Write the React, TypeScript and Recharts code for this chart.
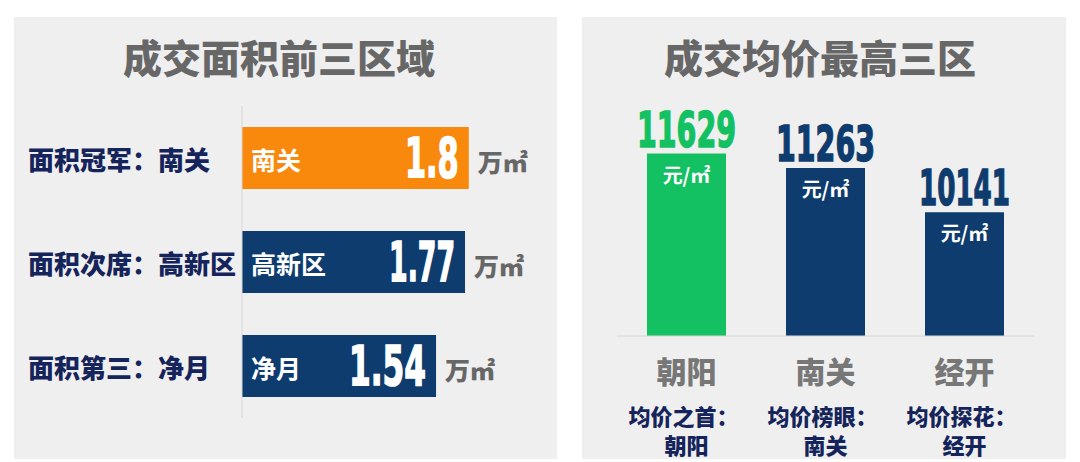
import { Bar, BarChart, Cell, LabelList, XAxis, YAxis } from "recharts";

// 成交面积前三区域 (万㎡)
const areaNames = ["南关", "高新区", "净月"];
const areaRanks = ["面积冠军：南关", "面积次席：高新区", "面积第三：净月"];
const areaValues = [1.8, 1.77, 1.54];
const areaUnit = "万㎡";

// 成交均价最高三区 (元/㎡)
const priceNames = ["朝阳", "南关", "经开"];
const priceRanks = ["均价之首：", "均价榜眼：", "均价探花："];
const priceValues = [11629, 11263, 10141];
const priceUnit = "元/㎡";

const CJK = '"Noto Sans CJK SC", "Noto Sans", sans-serif';
const NUM = '"Liberation Sans Narrow", "DejaVu Sans Condensed", "Liberation Sans", sans-serif';
const ORANGE = "#f8890c";
const NAVY = "#0e3c6e";
const GREEN = "#13c163";
const INK = "#15245a";
const GRAY = "#676767";
const PANEL = "#efefef";

const areaData = areaNames.map((name, i) => ({ name, rank: areaRanks[i], value: areaValues[i] }));
const priceData = priceNames.map((name, i) => ({ name, rank: priceRanks[i], value: priceValues[i] }));

// rough advance widths of the heavy condensed digits, in em
function numWidth(s: string, size: number) {
	let w = 0;
	for (const c of s) {
		if (c === "1") w += 0.3;
		else if (c === ".") w += 0.18;
		else if (c === "7") w += 0.36;
		else if (c === "8") w += 0.5;
		else w += 0.46;
	}
	return w * size;
}

function AreaTick(props: any) {
	const { y, payload } = props;
	return (
		<text x={14} y={y + 12} fill={INK} fontSize={26} fontWeight={900} fontFamily={CJK}>
			{payload.value}
		</text>
	);
}

function AreaInside(props: any) {
	const { x, y, height, index } = props;
	return (
		<text x={x + 9} y={y + height / 2 + 12} fill="#fff" fontSize={25} fontWeight={700} fontFamily={CJK}>
			{areaNames[index]}
		</text>
	);
}

function AreaValue(props: any) {
	const { x, y, width, height, value } = props;
	const s = String(value);
	const size = 55;
	const w = numWidth(s, size);
	const cy = y + height / 2;
	return (
		<g>
			<text
				x={x + width - 10 - w}
				y={cy + 19}
				fill="#fff"
				stroke="#fff"
				strokeWidth={1.5}
				fontSize={size}
				fontWeight={700}
				fontFamily={NUM}
				textLength={w}
				lengthAdjust="spacingAndGlyphs"
			>
				{s}
			</text>
			<text x={x + width + 9} y={cy + 14} fill={GRAY} fontSize={25} fontWeight={900} fontFamily={CJK}>
				{areaUnit}
			</text>
		</g>
	);
}

function PriceTick(props: any) {
	const { x, y, payload, index } = props;
	return (
		<g>
			<text x={x} y={y + 39} textAnchor="middle" fill="#777" fontSize={30} fontWeight={900} fontFamily={CJK}>
				{payload.value}
			</text>
			<text x={x - 3} y={y + 81} textAnchor="middle" fill={INK} fontSize={22} fontWeight={900} fontFamily={CJK}>
				{priceRanks[index]}
			</text>
			<text x={x} y={y + 110} textAnchor="middle" fill={INK} fontSize={22} fontWeight={900} fontFamily={CJK}>
				{payload.value}
			</text>
		</g>
	);
}

function PriceLabel(props: any) {
	const { x, y, width, value, index } = props;
	const s = String(value);
	const size = 50;
	const w = numWidth(s, size);
	const cx = x + width / 2;
	const color = index === 0 ? GREEN : NAVY;
	return (
		<g>
			<text
				x={cx - w / 2}
				y={y - 7}
				fill={color}
				stroke={color}
				strokeWidth={1.5}
				fontSize={size}
				fontWeight={700}
				fontFamily={NUM}
				textLength={w}
				lengthAdjust="spacingAndGlyphs"
			>
				{s}
			</text>
			<text x={cx} y={y + 29} textAnchor="middle" fill="#fff" fontSize={20} fontWeight={700} fontFamily={CJK}>
				{priceUnit}
			</text>
		</g>
	);
}

export default function App() {
	return (
		<div style={{ position: "absolute", left: 0, top: 0, width: 1080, height: 462, background: "#fff" }}>
			<svg width={1080} height={462} style={{ position: "absolute", left: 0, top: 0 }}>
				<rect x={14} y={17} width={543} height={442} fill={PANEL} />
				<rect x={582} y={17} width={484} height={442} fill={PANEL} />
				<text x={279} y={73} textAnchor="middle" fill={GRAY} fontSize={39} fontWeight={900} fontFamily={CJK}>
					成交面积前三区域
				</text>
				<text x={820} y={73} textAnchor="middle" fill={GRAY} fontSize={39} fontWeight={900} fontFamily={CJK}>
					成交均价最高三区
				</text>
			</svg>

			<div style={{ position: "absolute", left: 14, top: 17 }}>
				<BarChart
					width={543}
					height={442}
					data={areaData}
					layout="vertical"
					margin={{ top: 89, right: 63, bottom: 41, left: 0 }}
				>
					<XAxis type="number" hide domain={[0, 2]} />
					<YAxis
						type="category"
						dataKey="rank"
						width={228}
						axisLine={{ stroke: "#d6d6d6" }}
						tickLine={false}
						tick={<AreaTick />}
					/>
					<Bar dataKey="value" barSize={62} isAnimationActive={false}>
						{areaData.map((_, i) => (
							<Cell key={`a-${i}`} fill={i === 0 ? ORANGE : NAVY} />
						))}
						<LabelList dataKey="name" content={<AreaInside />} />
						<LabelList dataKey="value" content={<AreaValue />} />
					</Bar>
				</BarChart>
			</div>

			<div style={{ position: "absolute", left: 582, top: 17 }}>
				<BarChart
					width={484}
					height={442}
					data={priceData}
					margin={{ top: 122, right: 32, bottom: 0, left: 35 }}
				>
					<XAxis
						dataKey="name"
						height={123}
						axisLine={{ stroke: "#d6d6d6" }}
						tickLine={false}
						tick={<PriceTick />}
						interval={0}
					/>
					<YAxis type="number" hide domain={[7000, 12000]} tickCount={6} />
					<Bar dataKey="value" barSize={79} isAnimationActive={false}>
						{priceData.map((_, i) => (
							<Cell key={`p-${i}`} fill={i === 0 ? GREEN : NAVY} />
						))}
						<LabelList dataKey="value" content={<PriceLabel />} />
					</Bar>
				</BarChart>
			</div>
		</div>
	);
}
